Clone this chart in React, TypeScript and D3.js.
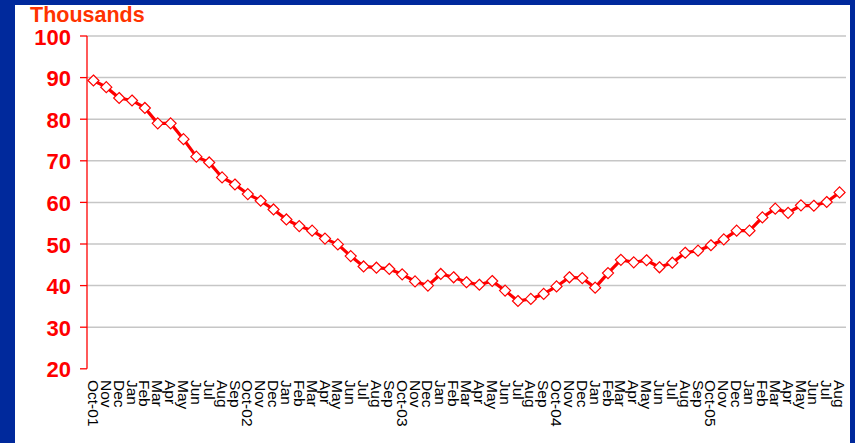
import React from "react";
import * as d3 from "d3";

const categories: string[] = [
  "Oct-01", "Nov", "Dec", "Jan", "Feb", "Mar", "Apr", "May", "Jun", "Jul", "Aug", "Sep",
  "Oct-02", "Nov", "Dec", "Jan", "Feb", "Mar", "Apr", "May", "Jun", "Jul", "Aug", "Sep",
  "Oct-03", "Nov", "Dec", "Jan", "Feb", "Mar", "Apr", "May", "Jun", "Jul", "Aug", "Sep",
  "Oct-04", "Nov", "Dec", "Jan", "Feb", "Mar", "Apr", "May", "Jun", "Jul", "Aug", "Sep",
  "Oct-05", "Nov", "Dec", "Jan", "Feb", "Mar", "Apr", "May", "Jun", "Jul", "Aug",
];

const values: number[] = [
  89.3, 87.7, 85.1, 84.5, 82.7, 79.0, 79.0, 75.2, 71.0, 69.6, 66.0, 64.3,
  62.0, 60.4, 58.3, 55.9, 54.3, 53.2, 51.3, 49.9, 47.1, 44.6, 44.3, 44.0,
  42.7, 41.0, 40.0, 42.8, 42.0, 40.8, 40.2, 41.1, 38.8, 36.3, 36.8, 38.0,
  39.8, 42.0, 41.8, 39.5, 43.0, 46.2, 45.6, 46.1, 44.4, 45.5, 47.9, 48.4,
  49.7, 51.1, 53.2, 53.2, 56.4, 58.5, 57.5, 59.3, 59.2, 60.1, 62.4,
];

const yTicks: number[] = [20, 30, 40, 50, 60, 70, 80, 90, 100];
const unitLabel = "Thousands";

export default function App() {
  const W = 855, H = 443;
  const left = 87, right = 846, top = 36, bottom = 368.8;
  const x = d3.scaleBand<number>().domain(d3.range(categories.length)).range([left, right]);
  const y = d3.scaleLinear().domain([20, 100]).range([bottom, top]);
  const cx = (i: number) => (x(i) as number) + x.bandwidth() / 2;
  const line = d3.line<number>().x((_, i) => cx(i)).y((d) => y(d));
  const r = 5.5;
  const font = "'Liberation Sans', Arial, sans-serif";

  return (
    <svg width={W} height={H} style={{ position: "absolute", left: 0, top: 0 }} fontFamily={font}>
      <rect x={0} y={0} width={W} height={H} fill="#00299c" />
      <rect x={15} y={5} width={835} height={H - 5} fill="#ffffff" />
      {yTicks.filter((t) => t > 20).map((t) => (
        <line key={"g" + t} x1={left} x2={right} y1={y(t)} y2={y(t)} stroke="#c6c6c6" strokeWidth={1.5} />
      ))}
      <line x1={left} x2={left} y1={top} y2={bottom} stroke="#ff0000" strokeWidth={1.3} />
      {yTicks.map((t) => (
        <g key={"t" + t}>
          <line x1={left - 7} x2={left} y1={y(t)} y2={y(t)} stroke="#ff0000" strokeWidth={1.3} />
          <text x={71} y={y(t) + 8.5} textAnchor="end" fontSize={22} fontWeight="bold" fill="#ff0000">{t}</text>
        </g>
      ))}
      <text x={30} y={22} fontSize={21.5} fontWeight="bold" fill="#ff3300">{unitLabel}</text>
      <path d={line(values) || ""} fill="none" stroke="#ff0000" strokeWidth={3.2} strokeLinejoin="round" />
      {values.map((v, i) => (
        <path key={"m" + i}
          d={`M${cx(i)},${y(v) - r}L${cx(i) + r},${y(v)}L${cx(i)},${y(v) + r}L${cx(i) - r},${y(v)}Z`}
          fill="#ffffff" stroke="#ff0000" strokeWidth={1.2} />
      ))}
      {categories.map((c, i) => (
        <text key={"c" + i} transform={`translate(${cx(i)},${380}) rotate(90)`} dy="0.35em"
          fontSize={15.5} fill="#000000">{c}</text>
      ))}
    </svg>
  );
}
